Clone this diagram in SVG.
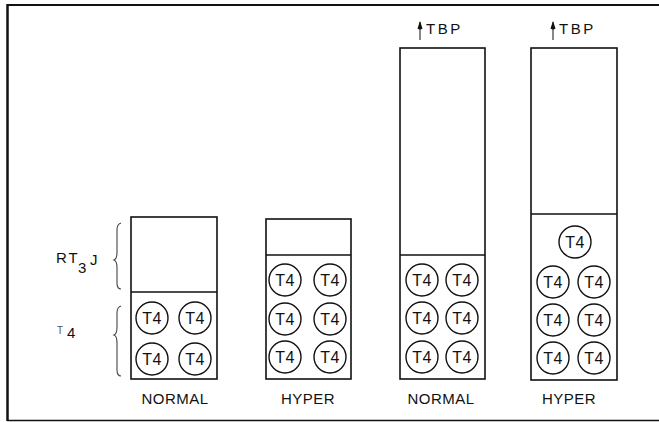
<svg xmlns="http://www.w3.org/2000/svg" width="659" height="422" viewBox="0 0 659 422">
<defs>
<style>
.box{fill:none;stroke:#111;stroke-width:1.6}
.c{fill:none;stroke:#111;stroke-width:1.4}
.ct{font-family:"Liberation Sans",Arial,sans-serif;font-size:16px;fill:#111;text-anchor:middle;letter-spacing:0.5px}
.lbl{font-family:"Liberation Sans",Arial,sans-serif;font-size:15px;fill:#111;text-anchor:middle;letter-spacing:0.5px}
.side{font-family:"Liberation Sans",Arial,sans-serif;font-size:15px;fill:#111}
.brace{fill:none;stroke:#444;stroke-width:1.1}
.frame{fill:none;stroke:#111}
</style>
<marker id="ah" viewBox="0 0 10 6" refX="9" refY="3" markerWidth="10" markerHeight="6" markerUnits="userSpaceOnUse" orient="auto">
<path d="M10,3 L2.5,0.5 Q0.5,3 2.5,5.5 Z" fill="#111"/>
</marker>
</defs>
<rect width="659" height="422" fill="#fff"/>
<g id="frame">
<line class="frame" x1="7.5" y1="4" x2="7.5" y2="421" stroke-width="2.5"/>
<line class="frame" x1="7" y1="5" x2="659" y2="5" stroke-width="2"/>
<line class="frame" x1="7" y1="420.5" x2="659" y2="420.5" stroke-width="1.5"/>
</g>
<g id="side-labels">
<text class="side" x="56" y="263" letter-spacing="2">RT</text>
<text class="side" x="78" y="273" font-size="13">3</text>
<text class="side" x="90" y="265" font-size="13">J</text>
<path class="brace" d="M121,223 Q117,224 117,230 L117,252 Q117,259 114,260 Q117,261 117,268 L117,283 Q117,289 121,289"/>
<text class="side" x="57" y="338" letter-spacing="4"><tspan font-size="10" fill="#555" dy="-4">T</tspan><tspan dy="4">4</tspan></text>
<path class="brace" d="M121,306 Q117,307 117,313 L117,327 Q117,334 114,335 Q117,336 117,343 L117,370 Q117,376 121,376"/>
</g>
<g id="normal-1">
<rect class="box" x="131" y="217" width="86" height="162"/>
<line class="box" x1="131" y1="292" x2="217" y2="292"/>
<circle class="c" cx="152" cy="318" r="16"/><text class="ct" x="152" y="324">T4</text>
<circle class="c" cx="195" cy="318" r="16"/><text class="ct" x="195" y="324">T4</text>
<circle class="c" cx="152" cy="359" r="16"/><text class="ct" x="152" y="365">T4</text>
<circle class="c" cx="195" cy="359" r="16"/><text class="ct" x="195" y="365">T4</text>
<text class="lbl" x="175" y="404">NORMAL</text>
</g>
<g id="hyper-1">
<rect class="box" x="266" y="219" width="85" height="160"/>
<line class="box" x1="266" y1="255" x2="351" y2="255"/>
<circle class="c" cx="285" cy="280" r="16"/><text class="ct" x="285" y="286">T4</text>
<circle class="c" cx="330" cy="280" r="16"/><text class="ct" x="330" y="286">T4</text>
<circle class="c" cx="285" cy="319" r="16"/><text class="ct" x="285" y="325">T4</text>
<circle class="c" cx="330" cy="319" r="16"/><text class="ct" x="330" y="325">T4</text>
<circle class="c" cx="285" cy="357" r="16"/><text class="ct" x="285" y="363">T4</text>
<circle class="c" cx="330" cy="357" r="16"/><text class="ct" x="330" y="363">T4</text>
<text class="lbl" x="308" y="404">HYPER</text>
</g>
<g id="normal-2">
<rect class="box" x="400" y="48" width="85" height="331"/>
<line class="box" x1="400" y1="255" x2="485" y2="255"/>
<circle class="c" cx="422" cy="280" r="16"/><text class="ct" x="422" y="286">T4</text>
<circle class="c" cx="462" cy="280" r="16"/><text class="ct" x="462" y="286">T4</text>
<circle class="c" cx="422" cy="318" r="16"/><text class="ct" x="422" y="324">T4</text>
<circle class="c" cx="462" cy="318" r="16"/><text class="ct" x="462" y="324">T4</text>
<circle class="c" cx="422" cy="357" r="16"/><text class="ct" x="422" y="363">T4</text>
<circle class="c" cx="462" cy="357" r="16"/><text class="ct" x="462" y="363">T4</text>
<text class="lbl" x="441" y="404">NORMAL</text>
<text class="side" x="426" y="34" letter-spacing="2.5">TBP</text>
</g>
<g id="hyper-2">
<rect class="box" x="531" y="48" width="86" height="332"/>
<line class="box" x1="531" y1="214" x2="617" y2="214"/>
<circle class="c" cx="575" cy="242" r="16"/><text class="ct" x="575" y="248">T4</text>
<circle class="c" cx="553" cy="282" r="16"/><text class="ct" x="553" y="288">T4</text>
<circle class="c" cx="594" cy="282" r="16"/><text class="ct" x="594" y="288">T4</text>
<circle class="c" cx="553" cy="320" r="16"/><text class="ct" x="553" y="326">T4</text>
<circle class="c" cx="594" cy="320" r="16"/><text class="ct" x="594" y="326">T4</text>
<circle class="c" cx="553" cy="358" r="16"/><text class="ct" x="553" y="364">T4</text>
<circle class="c" cx="594" cy="358" r="16"/><text class="ct" x="594" y="364">T4</text>
<text class="lbl" x="569" y="404">HYPER</text>
<text class="side" x="559" y="34" letter-spacing="2.5">TBP</text>
</g>
<g id="connectors">
<line x1="420" y1="40" x2="420" y2="22" stroke="#111" stroke-width="1" marker-end="url(#ah)"/>
<line x1="553" y1="40" x2="553" y2="22" stroke="#111" stroke-width="1" marker-end="url(#ah)"/>
</g>
</svg>
